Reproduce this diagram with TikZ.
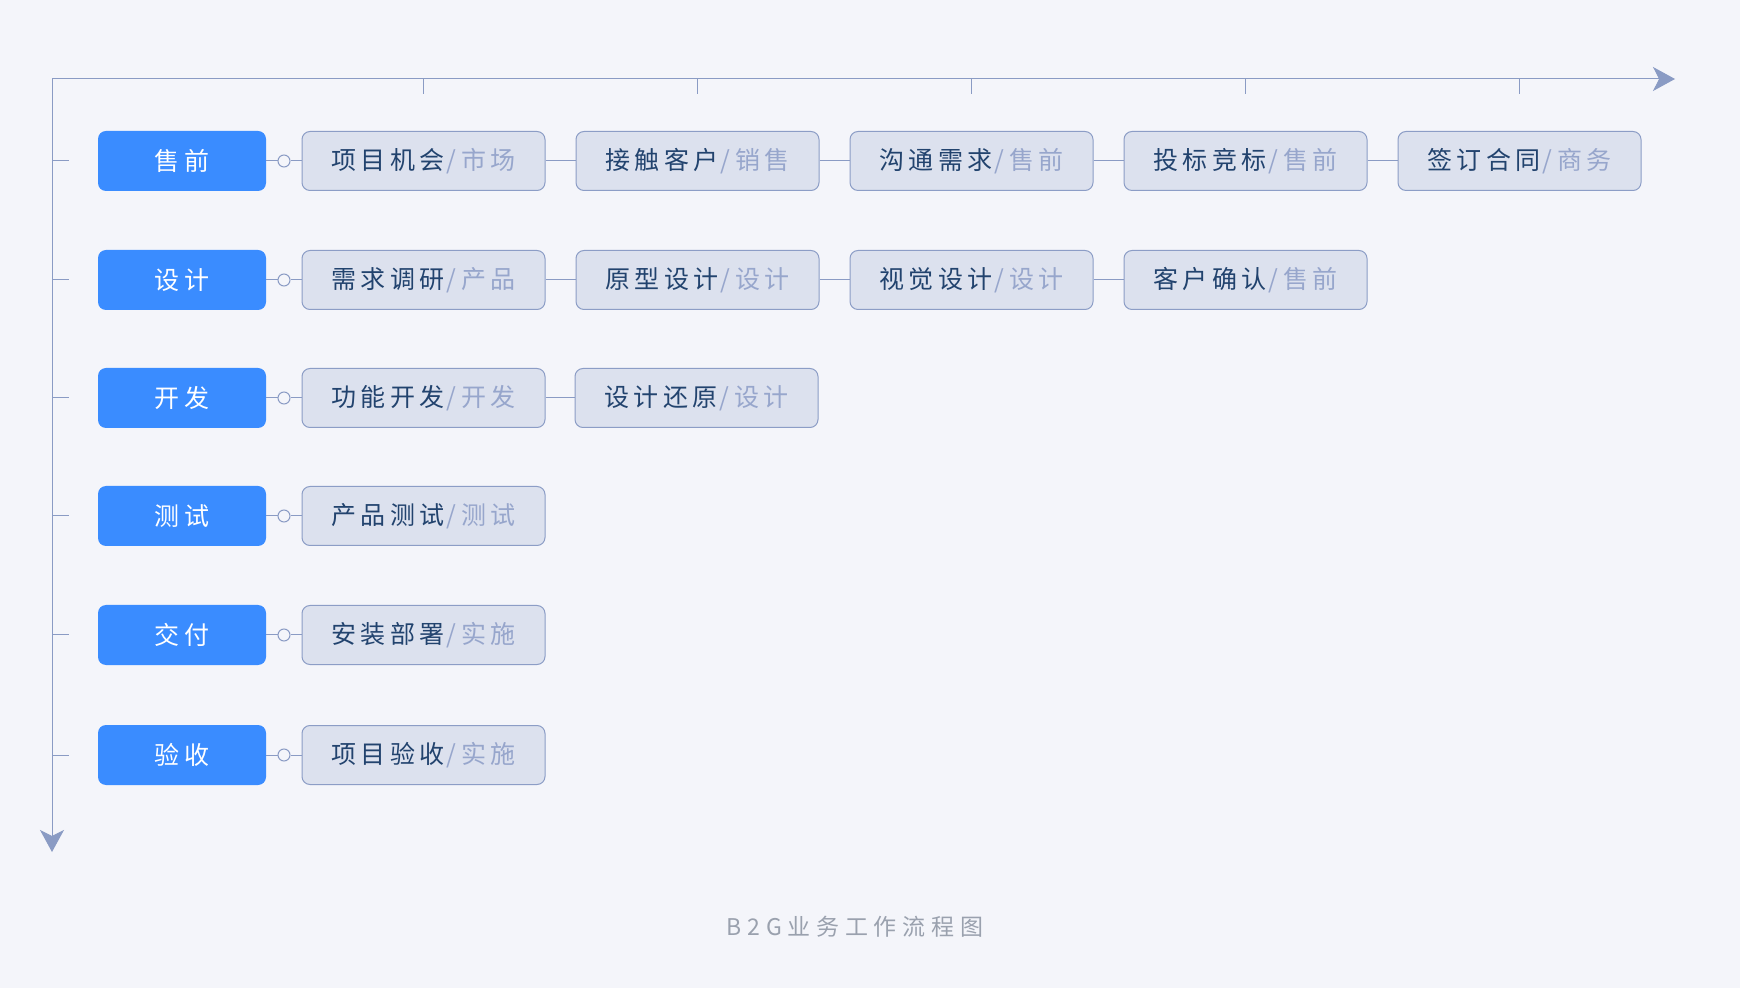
\documentclass[tikz,border=0pt]{standalone}
\usepackage{fontspec}
\setmainfont{Noto Sans CJK SC}[LetterSpace=18]
\newfontfamily\capfont{Noto Sans CJK SC}[LetterSpace=25]
\usetikzlibrary{arrows.meta}

\definecolor{bg}{HTML}{F4F5FA}
\definecolor{axis}{HTML}{8A9BC4}
\definecolor{stage}{HTML}{3A8CFF}
\definecolor{taskfill}{HTML}{DCE1EE}
\definecolor{taskdraw}{HTML}{8C9DC6}
\definecolor{taskmain}{HTML}{22436E}
\definecolor{taskrole}{HTML}{97A6CC}
\definecolor{captext}{HTML}{9AA1AE}

\tikzset{
  stagebox/.style={fill=stage, rounded corners=4pt, minimum width=84pt, minimum height=30pt,
    inner sep=0pt, text=white, font=\fontsize{12.5}{14}\selectfont},
  taskbox/.style={fill=taskfill, draw=taskdraw, line width=0.5pt, rounded corners=4pt,
    minimum width=121.5pt, minimum height=29.5pt, inner sep=0pt, text=taskmain,
    font=\fontsize{12.5}{14}\selectfont},
  hub/.style={circle, draw=axis, fill=bg, line width=0.5pt, minimum size=6pt, inner sep=0pt},
  link/.style={draw=axis, line width=0.5pt},
}
\newcommand{\task}[2]{#1\textcolor{taskrole}{\kern1pt/#2}}

\begin{document}
\begin{tikzpicture}[x=0.5pt, y=-0.5pt]
    \fill[bg] (0,0) rectangle (1740,988);
    \useasboundingbox (0,0) rectangle (1740,988);
    % axes
    \draw[link, {Stealth[length=11pt,width=12pt,inset=3pt]}-{Stealth[length=11pt,width=12pt,inset=3pt]}]
        (52,852) -- (52,79) -- (1675,79);
    \foreach \x in {423.5,697.5,971.5,1245.5,1519.5} \draw[link] (\x,79) -- (\x,94);
    \foreach \y in {161,280,398,516,635,755} \draw[link] (52,\y) -- (69,\y);

    % 售前
    \node[stagebox] (s1) at (182,161) {售前};
    \node[hub] (h1) at (284,161) {};
    \node[taskbox] (t11) at (423.5,161) {\task{项目机会}{市场}};
    \node[taskbox] (t12) at (697.5,161) {\task{接触客户}{销售}};
    \node[taskbox] (t13) at (971.5,161) {\task{沟通需求}{售前}};
    \node[taskbox] (t14) at (1245.5,161) {\task{投标竞标}{售前}};
    \node[taskbox] (t15) at (1519.5,161) {\task{签订合同}{商务}};
    \draw[link] (s1) -- (h1) -- (t11) -- (t12) -- (t13) -- (t14) -- (t15);

    % 设计
    \node[stagebox] (s2) at (182,280) {设计};
    \node[hub] (h2) at (284,280) {};
    \node[taskbox] (t21) at (423.5,280) {\task{需求调研}{产品}};
    \node[taskbox] (t22) at (697.5,280) {\task{原型设计}{设计}};
    \node[taskbox] (t23) at (971.5,280) {\task{视觉设计}{设计}};
    \node[taskbox] (t24) at (1245.5,280) {\task{客户确认}{售前}};
    \draw[link] (s2) -- (h2) -- (t21) -- (t22) -- (t23) -- (t24);

    % 开发
    \node[stagebox] (s3) at (182,398) {开发};
    \node[hub] (h3) at (284,398) {};
    \node[taskbox] (t31) at (423.5,398) {\task{功能开发}{开发}};
    \node[taskbox] (t32) at (696.5,398) {\task{设计还原}{设计}};
    \draw[link] (s3) -- (h3) -- (t31) -- (t32);

    % 测试
    \node[stagebox] (s4) at (182,516) {测试};
    \node[hub] (h4) at (284,516) {};
    \node[taskbox] (t41) at (423.5,516) {\task{产品测试}{测试}};
    \draw[link] (s4) -- (h4) -- (t41);

    % 交付
    \node[stagebox] (s5) at (182,635) {交付};
    \node[hub] (h5) at (284,635) {};
    \node[taskbox] (t51) at (423.5,635) {\task{安装部署}{实施}};
    \draw[link] (s5) -- (h5) -- (t51);

    % 验收
    \node[stagebox] (s6) at (182,755) {验收};
    \node[hub] (h6) at (284,755) {};
    \node[taskbox] (t61) at (423.5,755) {\task{项目验收}{实施}};
    \draw[link] (s6) -- (h6) -- (t61);

    \node[text=captext, font=\capfont\fontsize{11.5}{13}\selectfont] (title) at (855,927) {B2G业务工作流程图};
\end{tikzpicture}
\end{document}
